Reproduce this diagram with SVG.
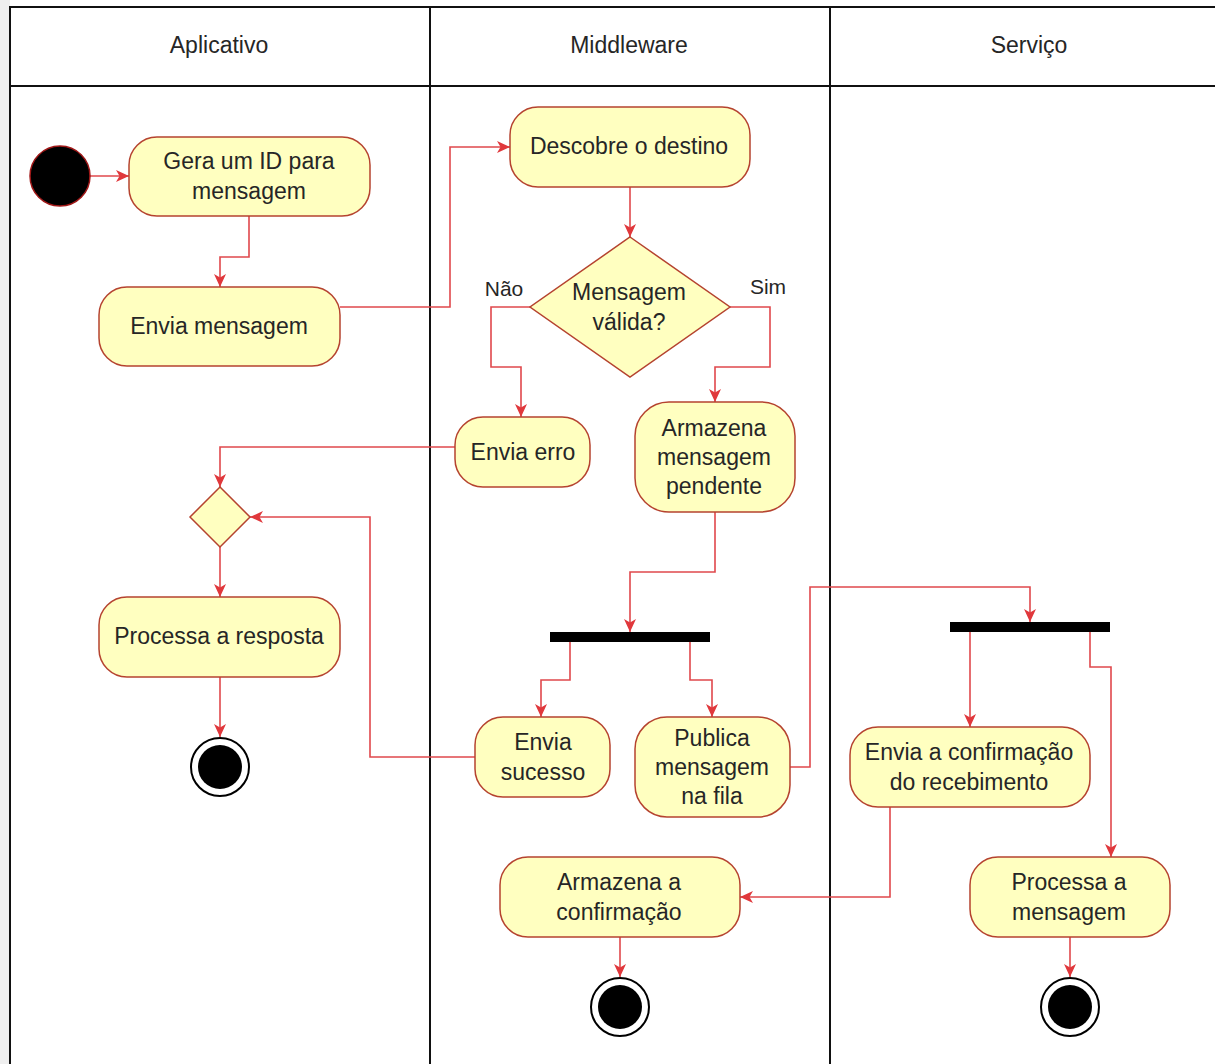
<svg xmlns="http://www.w3.org/2000/svg" width="1215" height="1064" viewBox="0 0 1215 1064">
  <style>
    text { font-family: "Liberation Sans", Arial, sans-serif; font-size: 23px; fill: #262626; text-anchor: middle; }
    .lane { fill: none; stroke: #111; stroke-width: 2; }
    .act { fill: #ffffc0; stroke: #b5432f; stroke-width: 1.5; }
    .edge { fill: none; stroke: #e0484c; stroke-width: 1.6; marker-end: url(#arrow); }
    .bar { fill: #000; }
    .start { fill: #000; stroke: #a01818; stroke-width: 1.5; }
    .endo { fill: #fff; stroke: #000; stroke-width: 2; }
    .endi { fill: #000; }
  </style>
  <defs>
    <marker id="arrow" markerUnits="userSpaceOnUse" markerWidth="14" markerHeight="12" refX="13" refY="6" orient="auto">
      <path d="M0,0 L13,6 L0,12 L3.5,6 Z" fill="#e0383c"/>
    </marker>
  </defs>

  <rect x="0" y="0" width="1215" height="1064" fill="#fff"/>
  <rect x="0" y="0" width="10" height="1064" fill="#efefef"/>

  <!-- swimlanes -->
  <g id="lanes">
    <path class="lane" d="M10,1064 V7 H1215 M10,86 H1215 M430,7 V1064 M830,7 V1064"/>
    <text x="219" y="53">Aplicativo</text>
    <text x="629" y="53">Middleware</text>
    <text x="1029" y="53">Serviço</text>
  </g>

  <!-- connectors -->
  <g id="connectors">
    <path class="edge" d="M90,176 H129"/>
    <path class="edge" d="M249,216 V257 H220 V287"/>
    <path class="edge" d="M340,307 H450 V147 H510"/>
    <path class="edge" d="M630,187 V237"/>
    <path class="edge" d="M530,307 H491 V367 H521 V417"/>
    <path class="edge" d="M730,307 H770 V367 H715 V402"/>
    <path class="edge" d="M455,447 H220 V487"/>
    <path class="edge" d="M220,547 V597"/>
    <path class="edge" d="M220,677 V737"/>
    <path class="edge" d="M715,512 V572 H630 V632"/>
    <path class="edge" d="M570,642 V680 H541 V717"/>
    <path class="edge" d="M690,642 V680 H712 V717"/>
    <path class="edge" d="M475,757 H370 V517 H250"/>
    <path class="edge" d="M790,767 H810 V587 H1030 V622"/>
    <path class="edge" d="M970,632 V727"/>
    <path class="edge" d="M1090,632 V667 H1111 V857"/>
    <path class="edge" d="M890,807 V897 H740"/>
    <path class="edge" d="M620,937 V977"/>
    <path class="edge" d="M1070,937 V977"/>
    <text x="504" y="296" style="font-size:21px">Não</text>
    <text x="768" y="294" style="font-size:21px">Sim</text>
  </g>

  <!-- Aplicativo -->
  <g id="start">
    <circle class="start" cx="60" cy="176" r="30"/>
  </g>
  <g id="gera-id">
    <rect class="act" x="129" y="137" width="241" height="79" rx="28"/>
    <text x="249" y="169">Gera um ID para</text>
    <text x="249" y="199">mensagem</text>
  </g>
  <g id="envia-mensagem">
    <rect class="act" x="99" y="287" width="241" height="79" rx="28"/>
    <text x="219" y="334">Envia mensagem</text>
  </g>
  <g id="merge">
    <polygon class="act" points="220,487 250,517 220,547 190,517"/>
  </g>
  <g id="processa-resposta">
    <rect class="act" x="99" y="597" width="241" height="80" rx="28"/>
    <text x="219" y="644">Processa a resposta</text>
  </g>
  <g id="end-aplicativo">
    <circle class="endo" cx="220" cy="767" r="29"/>
    <circle class="endi" cx="220" cy="767" r="22"/>
  </g>

  <!-- Middleware -->
  <g id="descobre-destino">
    <rect class="act" x="510" y="107" width="240" height="80" rx="28"/>
    <text x="629" y="154">Descobre o destino</text>
  </g>
  <g id="mensagem-valida">
    <polygon class="act" points="630,237 730,307 630,377 530,307"/>
    <text x="629" y="300">Mensagem</text>
    <text x="629" y="330">válida?</text>
  </g>
  <g id="envia-erro">
    <rect class="act" x="455" y="417" width="135" height="70" rx="28"/>
    <text x="523" y="460">Envia erro</text>
  </g>
  <g id="armazena-pendente">
    <rect class="act" x="635" y="402" width="160" height="110" rx="34"/>
    <text x="714" y="436">Armazena</text>
    <text x="714" y="465">mensagem</text>
    <text x="714" y="494">pendente</text>
  </g>
  <g id="fork-middleware">
    <rect class="bar" x="550" y="632" width="160" height="10"/>
  </g>
  <g id="envia-sucesso">
    <rect class="act" x="475" y="717" width="135" height="80" rx="28"/>
    <text x="543" y="750">Envia</text>
    <text x="543" y="780">sucesso</text>
  </g>
  <g id="publica-fila">
    <rect class="act" x="635" y="717" width="155" height="100" rx="32"/>
    <text x="712" y="746">Publica</text>
    <text x="712" y="775">mensagem</text>
    <text x="712" y="804">na fila</text>
  </g>
  <g id="armazena-confirmacao">
    <rect class="act" x="500" y="857" width="240" height="80" rx="28"/>
    <text x="619" y="890">Armazena a</text>
    <text x="619" y="920">confirmação</text>
  </g>
  <g id="end-middleware">
    <circle class="endo" cx="620" cy="1007" r="29"/>
    <circle class="endi" cx="620" cy="1007" r="22"/>
  </g>

  <!-- Serviço -->
  <g id="fork-servico">
    <rect class="bar" x="950" y="622" width="160" height="10"/>
  </g>
  <g id="envia-confirmacao">
    <rect class="act" x="850" y="727" width="240" height="80" rx="28"/>
    <text x="969" y="760">Envia a confirmação</text>
    <text x="969" y="790">do recebimento</text>
  </g>
  <g id="processa-mensagem">
    <rect class="act" x="970" y="857" width="200" height="80" rx="28"/>
    <text x="1069" y="890">Processa a</text>
    <text x="1069" y="920">mensagem</text>
  </g>
  <g id="end-servico">
    <circle class="endo" cx="1070" cy="1007" r="29"/>
    <circle class="endi" cx="1070" cy="1007" r="22"/>
  </g>
</svg>
